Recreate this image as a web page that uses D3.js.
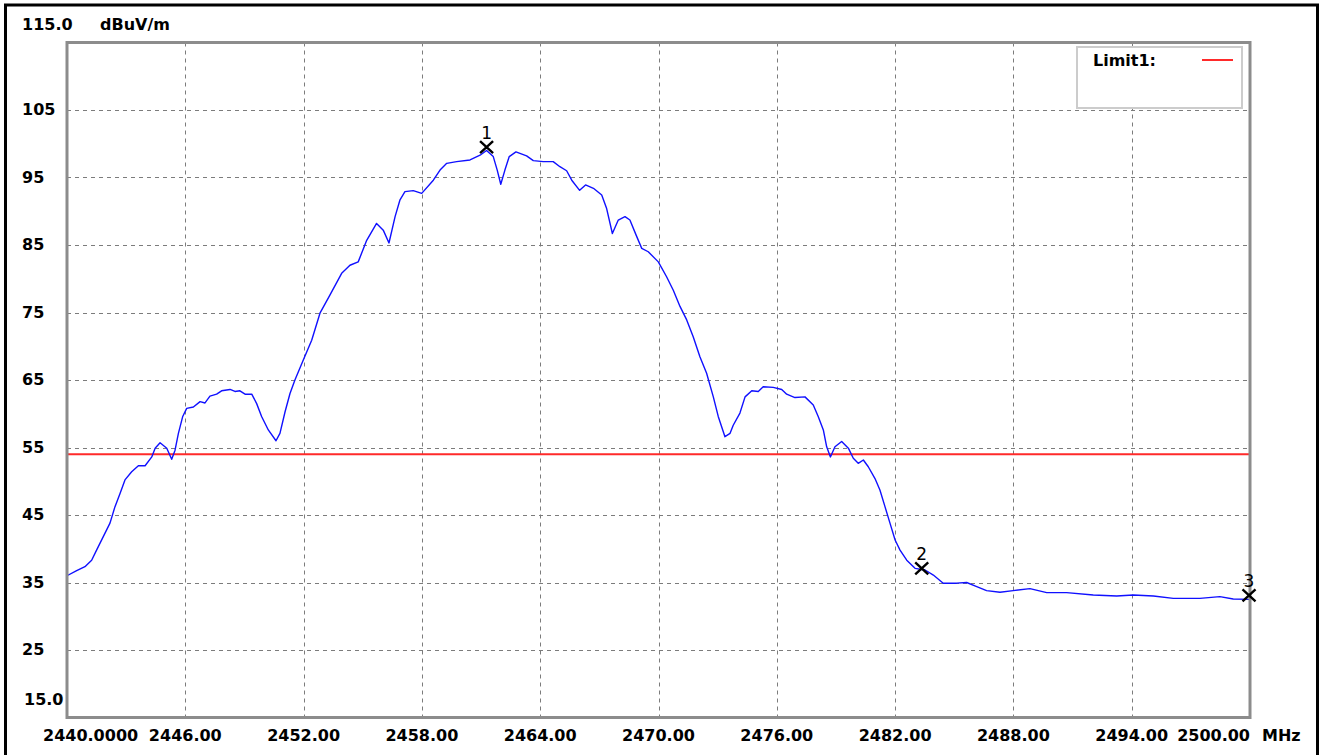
<!DOCTYPE html>
<html>
<head>
<meta charset="utf-8">
<script src="https://cdn.jsdelivr.net/npm/d3@7"></script>
<style>
  html, body { margin: 0; padding: 0; background: #fff; }
  svg { display: block; }
  text { font-family: "DejaVu Sans", sans-serif; }
</style>
</head>
<body>
<svg id="chart"></svg>
<script>
// spectrum trace (MHz, dBuV/m)
const freqs = [
  2440.00, 2440.49, 2440.91, 2441.25, 2441.50, 2441.84, 2442.18, 2442.43, 2442.69, 2442.94,
  2443.28, 2443.62, 2443.96, 2444.30, 2444.47, 2444.72, 2445.06, 2445.31, 2445.48, 2445.65,
  2445.87, 2446.07, 2446.41, 2446.75, 2447.00, 2447.25, 2447.59, 2447.84, 2448.27, 2448.52,
  2448.77, 2449.03, 2449.37, 2449.62, 2449.87, 2450.21, 2450.60, 2450.80, 2451.06, 2451.31,
  2451.56, 2451.99, 2452.41, 2452.83, 2453.34, 2453.93, 2454.35, 2454.77, 2455.20, 2455.70,
  2456.04, 2456.33, 2456.64, 2456.89, 2457.14, 2457.56, 2457.99, 2458.58, 2458.92, 2459.26,
  2459.76, 2460.44, 2460.95, 2461.28, 2461.62, 2461.82, 2462.00, 2462.21, 2462.43, 2462.77,
  2463.31, 2463.65, 2464.15, 2464.66, 2465.00, 2465.34, 2465.60, 2466.00, 2466.30, 2466.70,
  2467.12, 2467.37, 2467.66, 2467.96, 2468.30, 2468.55, 2468.86, 2469.15, 2469.48, 2469.99,
  2470.41, 2470.75, 2471.09, 2471.43, 2471.76, 2472.10, 2472.44, 2472.78, 2473.03, 2473.37,
  2473.63, 2473.79, 2474.13, 2474.39, 2474.73, 2475.06, 2475.31, 2475.82, 2476.25, 2476.50,
  2476.92, 2477.43, 2477.85, 2478.10, 2478.36, 2478.53, 2478.72, 2478.95, 2479.29, 2479.63,
  2479.88, 2480.13, 2480.39, 2480.64, 2480.98, 2481.23, 2481.49, 2481.74, 2482.00, 2482.25,
  2482.59, 2483.01, 2483.52, 2483.94, 2484.44, 2485.12, 2485.63, 2486.14, 2486.64, 2487.32,
  2487.99, 2488.84, 2489.69, 2490.70, 2492.05, 2493.24, 2494.08, 2495.10, 2496.11, 2497.46,
  2498.47, 2499.15, 2500.00
];
const levels = [
  36.0, 36.75, 37.35, 38.3, 39.8, 41.8, 43.8, 46.2, 48.2, 50.2,
  51.4, 52.3, 52.3, 53.6, 54.9, 55.7, 54.9, 53.25, 54.6, 57.1,
  59.6, 60.8, 61.0, 61.8, 61.6, 62.6, 62.9, 63.4, 63.6, 63.3,
  63.4, 62.9, 62.9, 61.5, 59.6, 57.6, 56.0, 57.1, 60.3, 63.0,
  65.0, 68.0, 70.9, 74.9, 77.6, 80.8, 82.0, 82.5, 85.7, 88.2,
  87.2, 85.3, 89.2, 91.7, 92.9, 93.05, 92.65, 94.6, 96.1, 97.1,
  97.35, 97.6, 98.3, 99.0, 98.1, 96.1, 94.0, 96.1, 98.1, 98.8,
  98.2, 97.5, 97.35, 97.35, 96.6, 96.0, 94.6, 93.1, 93.9, 93.4,
  92.4, 90.4, 86.7, 88.7, 89.2, 88.7, 86.5, 84.5, 84.0, 82.5,
  80.3, 78.3, 75.9, 73.9, 71.4, 68.45, 66.0, 62.5, 59.6, 56.6,
  57.1, 58.3, 60.1, 62.5, 63.4, 63.3, 64.0, 63.9, 63.6, 62.9,
  62.4, 62.5, 61.3, 59.6, 57.6, 55.1, 53.6, 55.1, 55.9, 54.9,
  53.4, 52.65, 53.15, 52.15, 50.4, 48.7, 46.2, 43.8, 41.3, 39.8,
  38.3, 37.1, 36.85, 36.1, 34.9, 34.9, 35.0, 34.4, 33.8, 33.55,
  33.8, 34.1, 33.5, 33.5, 33.15, 33.0, 33.15, 33.0, 32.65, 32.65,
  32.9, 32.55, 32.5
];

const limitLevel = 54;

const markerIds = ['1', '2', '3'];
const markerFreqs = [2461.28, 2483.35, 2499.95];
const markerLevels = [99.5, 37.1, 33.1];

const xTicks = [2440, 2446, 2452, 2458, 2464, 2470, 2476, 2482, 2488, 2494, 2500];
const xTickLabels = ['2440.0000', '2446.00', '2452.00', '2458.00', '2464.00', '2470.00',
  '2476.00', '2482.00', '2488.00', '2494.00', '2500.00'];
const yTicks = [115, 105, 95, 85, 75, 65, 55, 45, 35, 25, 15];
const yTickLabels = ['115.0', '105', '95', '85', '75', '65', '55', '45', '35', '25', '15.0'];

const width = 1322;
const height = 755;
const plot = { left: 67, right: 1250, top: 42.5, bottom: 717.5 };

const svg = d3.select('#chart')
  .attr('width', width)
  .attr('height', height);

svg.append('rect')
  .attr('width', width)
  .attr('height', height)
  .attr('fill', '#fff');

// outer black frame (bottom edge runs off the image)
svg.append('rect')
  .attr('x', 5.5)
  .attr('y', 5)
  .attr('width', 1312)
  .attr('height', 770)
  .attr('fill', 'none')
  .attr('stroke', '#000')
  .attr('stroke-width', 3);

const x = d3.scaleLinear().domain([2440, 2500]).range([plot.left, plot.right]);
const y = d3.scaleLinear().domain([15, 115]).range([plot.bottom, plot.top]);

// dashed grid
const grid = svg.append('g')
  .attr('stroke', '#7c7c7c')
  .attr('stroke-width', 1)
  .attr('stroke-dasharray', '4,4');

grid.selectAll('.vgrid')
  .data(xTicks.slice(1, -1))
  .enter()
  .append('line')
  .attr('class', 'vgrid')
  .attr('x1', d => Math.round(x(d)) + 0.5)
  .attr('x2', d => Math.round(x(d)) + 0.5)
  .attr('y1', plot.top)
  .attr('y2', plot.bottom);

grid.selectAll('.hgrid')
  .data(yTicks.slice(1, -1))
  .enter()
  .append('line')
  .attr('class', 'hgrid')
  .attr('x1', plot.left)
  .attr('x2', plot.right)
  .attr('y1', d => Math.round(y(d)) + 0.5)
  .attr('y2', d => Math.round(y(d)) + 0.5);

// limit line
svg.append('line')
  .attr('x1', plot.left)
  .attr('x2', plot.right)
  .attr('y1', y(limitLevel))
  .attr('y2', y(limitLevel))
  .attr('stroke', '#ff2a2a')
  .attr('stroke-width', 2);

// trace
const trace = freqs.map((f, i) => [f, levels[i]]);
const line = d3.line()
  .x(d => x(d[0]))
  .y(d => y(d[1]));

svg.append('path')
  .datum(trace)
  .attr('d', line)
  .attr('fill', 'none')
  .attr('stroke', '#1010ff')
  .attr('stroke-width', 1.4)
  .attr('stroke-linejoin', 'round');

// plot frame
svg.append('rect')
  .attr('x', plot.left)
  .attr('y', plot.top)
  .attr('width', plot.right - plot.left)
  .attr('height', plot.bottom - plot.top)
  .attr('fill', 'none')
  .attr('stroke', '#8c8c8c')
  .attr('stroke-width', 3);

// markers
const markers = svg.append('g');
markerIds.forEach((id, i) => {
  const mx = x(markerFreqs[i]);
  const my = y(markerLevels[i]);
  markers.append('path')
    .attr('d', `M${mx - 6.5},${my - 6}L${mx + 6.5},${my + 6}M${mx - 6.5},${my + 6}L${mx + 6.5},${my - 6}`)
    .attr('stroke', '#000')
    .attr('stroke-width', 2.4)
    .attr('fill', 'none');
  markers.append('text')
    .attr('x', mx)
    .attr('y', my - 8)
    .attr('text-anchor', 'middle')
    .attr('font-size', 17)
    .attr('fill', '#000')
    .text(id);
});

// y labels
svg.selectAll('.ylabel')
  .data(yTicks)
  .enter()
  .append('text')
  .attr('class', 'ylabel')
  .attr('x', (d, i) => i === yTicks.length - 1 ? 24 : 22)
  .attr('y', (d, i) => {
    if (i === 0) return 30;
    if (i === yTicks.length - 1) return 705;
    return y(d) + 5;
  })
  .attr('font-size', 16)
  .attr('font-weight', 'bold')
  .attr('fill', '#000')
  .text((d, i) => yTickLabels[i]);

svg.append('text')
  .attr('x', 100)
  .attr('y', 30)
  .attr('font-size', 16)
  .attr('font-weight', 'bold')
  .text('dBuV/m');

// x labels
svg.selectAll('.xlabel')
  .data(xTicks)
  .enter()
  .append('text')
  .attr('class', 'xlabel')
  .attr('x', (d, i) => {
    if (i === 0) return 43;
    if (i === xTicks.length - 1) return plot.right;
    return x(d);
  })
  .attr('y', 741)
  .attr('text-anchor', (d, i) => {
    if (i === 0) return 'start';
    if (i === xTicks.length - 1) return 'end';
    return 'middle';
  })
  .attr('font-size', 16)
  .attr('font-weight', 'bold')
  .attr('fill', '#000')
  .text((d, i) => xTickLabels[i]);

svg.append('text')
  .attr('x', 1262)
  .attr('y', 741)
  .attr('font-size', 16)
  .attr('font-weight', 'bold')
  .text('MHz');

// legend
const legend = svg.append('g');
legend.append('rect')
  .attr('x', 1077)
  .attr('y', 47)
  .attr('width', 165)
  .attr('height', 61)
  .attr('fill', '#fff')
  .attr('stroke', '#cccccc')
  .attr('stroke-width', 2);
legend.append('text')
  .attr('x', 1093)
  .attr('y', 66)
  .attr('font-size', 16)
  .attr('font-weight', 'bold')
  .text('Limit1:');
legend.append('line')
  .attr('x1', 1202)
  .attr('x2', 1233)
  .attr('y1', 60)
  .attr('y2', 60)
  .attr('stroke', '#ff2a2a')
  .attr('stroke-width', 2);
</script>
</body>
</html>
